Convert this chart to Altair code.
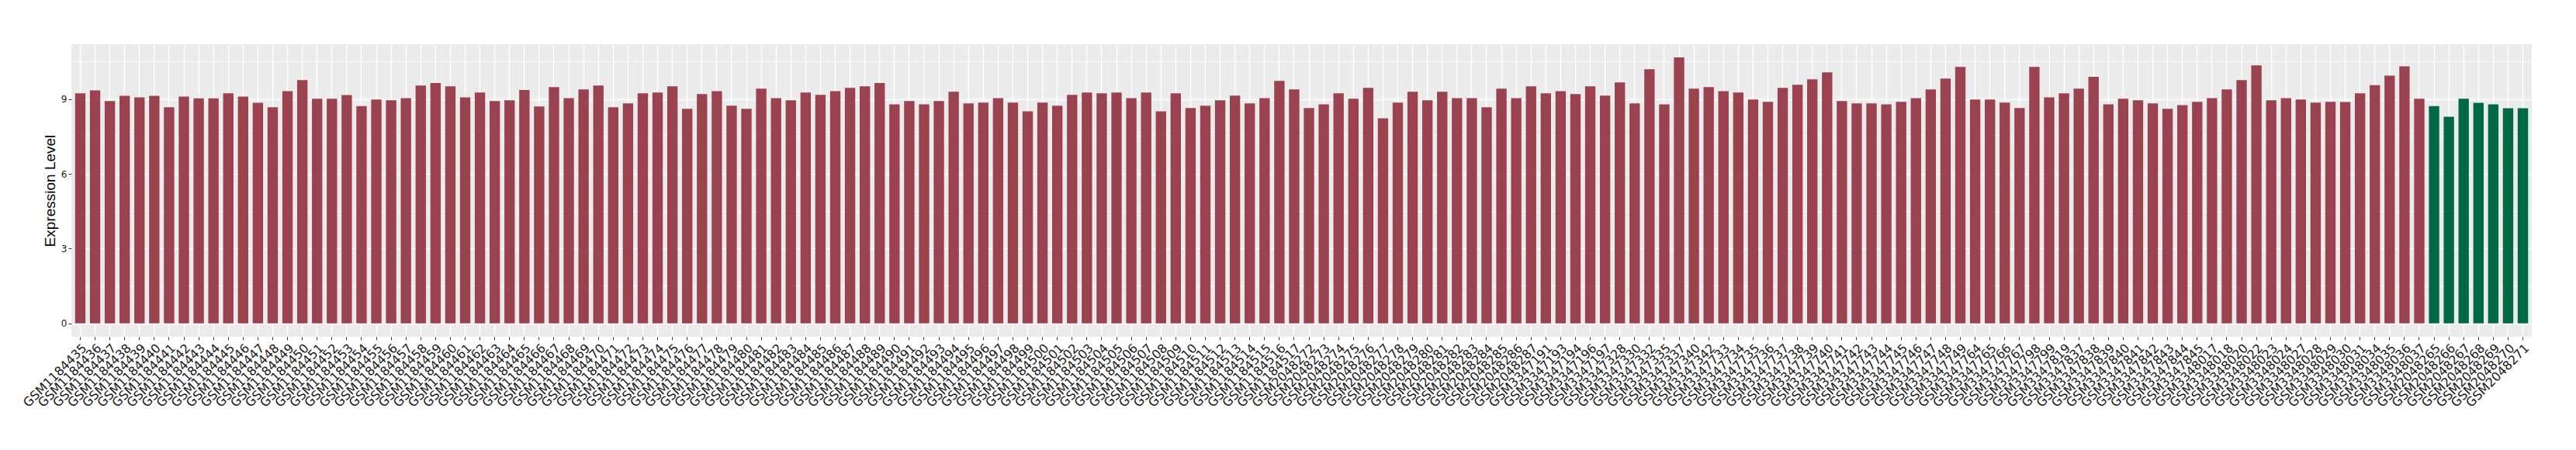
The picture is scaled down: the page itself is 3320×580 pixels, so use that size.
import altair as alt
import pandas as pd

samples = [
    "GSM1184435", "GSM1184436", "GSM1184437", "GSM1184438", "GSM1184439", "GSM1184440",
    "GSM1184441", "GSM1184442", "GSM1184443", "GSM1184444", "GSM1184445", "GSM1184446",
    "GSM1184447", "GSM1184448", "GSM1184449", "GSM1184450", "GSM1184451", "GSM1184452",
    "GSM1184453", "GSM1184454", "GSM1184455", "GSM1184456", "GSM1184457", "GSM1184458",
    "GSM1184459", "GSM1184460", "GSM1184461", "GSM1184462", "GSM1184463", "GSM1184464",
    "GSM1184465", "GSM1184466", "GSM1184467", "GSM1184468", "GSM1184469", "GSM1184470",
    "GSM1184471", "GSM1184472", "GSM1184473", "GSM1184474", "GSM1184475", "GSM1184476",
    "GSM1184477", "GSM1184478", "GSM1184479", "GSM1184480", "GSM1184481", "GSM1184482",
    "GSM1184483", "GSM1184484", "GSM1184485", "GSM1184486", "GSM1184487", "GSM1184488",
    "GSM1184489", "GSM1184490", "GSM1184491", "GSM1184492", "GSM1184493", "GSM1184494",
    "GSM1184495", "GSM1184496", "GSM1184497", "GSM1184498", "GSM1184499", "GSM1184500",
    "GSM1184501", "GSM1184502", "GSM1184503", "GSM1184504", "GSM1184505", "GSM1184506",
    "GSM1184507", "GSM1184508", "GSM1184509", "GSM1184510", "GSM1184511", "GSM1184512",
    "GSM1184513", "GSM1184514", "GSM1184515", "GSM1184516", "GSM1184517",
    "GSM2048272", "GSM2048273", "GSM2048274", "GSM2048275", "GSM2048276", "GSM2048277",
    "GSM2048278", "GSM2048279", "GSM2048280", "GSM2048281", "GSM2048282", "GSM2048283",
    "GSM2048284", "GSM2048285", "GSM2048286", "GSM2048287",
    "GSM3347191", "GSM3347193", "GSM3347194", "GSM3347196", "GSM3347197", "GSM3347328",
    "GSM3347330", "GSM3347332", "GSM3347335", "GSM3347337", "GSM3347340", "GSM3347342",
    "GSM3347733", "GSM3347734", "GSM3347735", "GSM3347736", "GSM3347737", "GSM3347738",
    "GSM3347739", "GSM3347740", "GSM3347741", "GSM3347742", "GSM3347743", "GSM3347744",
    "GSM3347745", "GSM3347746", "GSM3347747", "GSM3347748", "GSM3347749",
    "GSM3347764", "GSM3347765", "GSM3347766", "GSM3347767", "GSM3347798", "GSM3347799",
    "GSM3347819", "GSM3347837", "GSM3347838", "GSM3347839", "GSM3347840", "GSM3347841",
    "GSM3347842", "GSM3347843", "GSM3347844", "GSM3347845",
    "GSM3348017", "GSM3348018", "GSM3348020", "GSM3348022", "GSM3348023", "GSM3348024",
    "GSM3348027", "GSM3348028", "GSM3348029", "GSM3348030", "GSM3348031", "GSM3348034",
    "GSM3348035", "GSM3348036", "GSM3348037",
    "GSM2048265", "GSM2048266", "GSM2048267", "GSM2048268", "GSM2048269", "GSM2048270",
    "GSM2048271",
]

expression = [
    9.23, 9.35, 8.92, 9.13, 9.07, 9.13, 8.67, 9.10, 9.03, 9.03, 9.23, 9.10, 8.85, 8.67,
    9.32, 9.76, 9.01, 9.01, 9.16, 8.72, 8.98,
    8.95, 9.04, 9.54, 9.64, 9.51, 9.07, 9.26, 8.92, 8.95, 9.36, 8.70, 9.48, 9.04, 9.39,
    9.54, 8.67,
    8.83, 9.23, 9.26, 9.51, 8.61, 9.20, 9.32, 8.73, 8.61, 9.42, 9.04, 8.95, 9.26, 9.17,
    9.32, 9.45,
    9.51, 9.64, 8.79, 8.92, 8.79, 8.92, 9.29, 8.83, 8.86, 9.04, 8.86, 8.51, 8.86, 8.73,
    9.17, 9.26, 9.23,
    9.26, 9.04, 9.26, 8.51, 9.23, 8.64, 8.73, 8.95, 9.14, 8.83, 9.04, 9.73, 9.39,
    8.64, 8.79, 9.23, 9.01, 9.45, 8.23, 8.86, 9.29, 8.95, 9.29, 9.04, 9.04, 8.67, 9.42,
    9.04, 9.51,
    9.23, 9.32, 9.20, 9.51, 9.14, 9.67, 8.83, 10.20, 8.79, 10.67, 9.42, 9.48,
    9.32, 9.26, 8.98, 8.89, 9.45, 9.57, 9.79, 10.07, 8.92, 8.83, 8.83, 8.79, 8.89, 9.04,
    9.39, 9.82, 10.29,
    8.98, 8.98, 8.86, 8.64, 10.29, 9.07, 9.23, 9.42, 9.89, 8.79, 9.01, 8.95, 8.83, 8.61,
    8.76, 8.89,
    9.04, 9.39, 9.76, 10.35, 8.95, 9.04, 8.98, 8.86, 8.89, 8.88, 9.23, 9.56, 9.94, 10.31,
    9.01,
    8.72, 8.29, 9.01, 8.85, 8.79, 8.63, 8.63,
]

groups = ["case"] * 159 + ["control"] * 7

y_ticks = [0, 3, 6, 9]
minor_grid = [1.5, 4.5, 7.5, 10.5]

RED = "#9b4251"
GREEN = "#006846"

df = pd.DataFrame({"sample": samples, "value": expression, "group": groups})
minor_df = pd.DataFrame({"y": minor_grid})

y_scale = alt.Scale(domain=[-0.534, 11.2], nice=False, zero=False)
x_scale = alt.Scale(paddingInner=0.3, paddingOuter=0.25)

minor = alt.Chart(minor_df).mark_rule(color="white", strokeWidth=0.7).encode(
    y=alt.Y("y:Q", scale=y_scale)
)

bars = alt.Chart(df).mark_bar().encode(
    x=alt.X(
        "sample:N",
        sort=samples,
        scale=x_scale,
        axis=alt.Axis(
            title=None,
            labelAngle=-45,
            labelAlign="right",
            labelBaseline="top",
            labelFontSize=16,
            labelFont="DejaVu Sans",
            labelColor="#1a1a1a",
            labelPadding=2,
            labelOverlap=False,
            tickColor="#333333",
            tickSize=4,
            tickWidth=1,
            domain=False,
            grid=True,
            gridColor="white",
            gridWidth=1.4,
            bandPosition=0.5,
        ),
    ),
    y=alt.Y(
        "value:Q",
        scale=y_scale,
        axis=alt.Axis(
            title="Expression Level",
            titleFont="Liberation Sans",
            titleFontSize=19,
            titleFontWeight="normal",
            titleColor="black",
            titlePadding=4,
            values=y_ticks,
            labelFontSize=12,
            labelFont="DejaVu Sans",
            labelColor="#1a1a1a",
            labelPadding=2,
            tickColor="#333333",
            tickSize=4,
            domain=False,
            grid=True,
            gridColor="white",
            gridWidth=1.4,
        ),
    ),
    y2=alt.datum(0),
    color=alt.Color(
        "group:N",
        scale=alt.Scale(domain=["case", "control"], range=[RED, GREEN]),
        legend=None,
    ),
)

chart = (
    alt.layer(minor, bars)
    .properties(
        width=3171,
        height=377,
        autosize=alt.AutoSizeParams(type="none"),
        padding={"left": 84, "top": 49, "right": 40, "bottom": 130},
        background="white",
    )
    .configure_view(fill="#ebebeb", stroke=None)
)

chart.save("out.html", embed_options={"renderer": "svg", "actions": False})
